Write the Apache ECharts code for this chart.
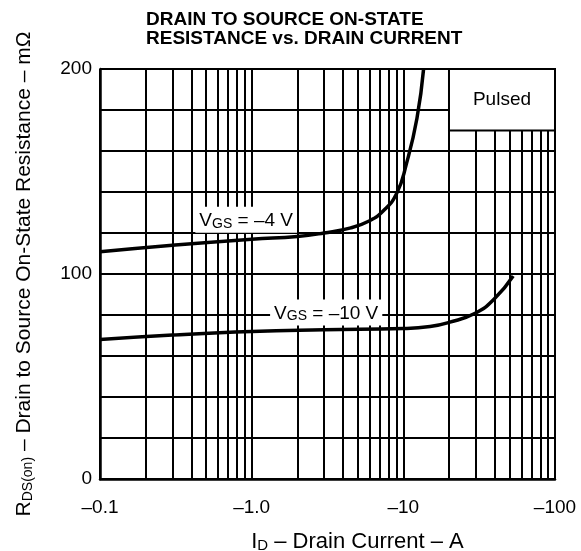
<!DOCTYPE html>
<html>
<head>
<meta charset="utf-8">
<script src="https://cdn.jsdelivr.net/npm/echarts@6/dist/echarts.min.js"></script>
<style>html,body{margin:0;padding:0;background:#fff;}#c{width:581px;height:551px;}</style>
</head>
<body>
<div id="c"></div>
<script>
// ---- data ----
const xTickLabels = ['–0.1', '–1.0', '–10', '–100'];
const yTickLabels = [0, 100, 200];
const xMinorGrid = [0.2,0.3,0.4,0.5,0.6,0.7,0.8,0.9,2,3,4,5,6,7,8,9,20,30,40,50,60,70,80,90];
// |I_D| in A, R in mΩ
const id4 = [0.1,0.3,1.0,2.0,3.0,4.5,6.0,7.3,9.0,10.5,12.3,13.6];
const r4  = [110.8,114,117,118.3,120,122.5,126,130.5,139,154,176,200];
const id10 = [0.1,0.3,1.0,3.0,10,15,20,30,40,53];
const r10  = [68,70.2,72,72.8,73.4,74.4,76.4,81,88,99];
const label4 = { x: 0.92, y: 126.5 };
const label10 = { x: 3.1, y: 81.2 };
const pulsedBox = { x0: 20, x1: 100, y0: 170, y1: 200 };

const FONT = 'Liberation Sans, Arial, Helvetica, sans-serif';
const pair = (xs, ys) => xs.map((x, i) => [x, ys[i]]);

const vgsRich = {
  v: { fontSize: 19, lineHeight: 22, fontFamily: FONT, color: '#000', verticalAlign: 'bottom' },
  s: { fontSize: 14, lineHeight: 18, fontFamily: FONT, color: '#000', verticalAlign: 'bottom' }
};

const chart = echarts.init(document.getElementById('c'), null, { renderer: 'canvas' });
chart.setOption({
  animation: false,
  backgroundColor: '#fff',
  title: {
    text: 'DRAIN TO SOURCE ON-STATE\nRESISTANCE vs. DRAIN CURRENT',
    left: 146, top: 10, padding: 0,
    textStyle: { fontFamily: FONT, fontSize: 19, fontWeight: 'bold', lineHeight: 19, color: '#000' }
  },
  grid: { left: 100, right: 26, top: 69, bottom: 72, containLabel: false, outerBoundsMode: 'none' },
  xAxis: {
    type: 'log', logBase: 10, min: 0.1, max: 100,
    name: '{a|I}{b|D}{a| – Drain Current – A}',
    nameLocation: 'middle', nameGap: 50,
    nameTextStyle: {
      padding: [0, 0, 0, 60],
      rich: {
        a: { fontSize: 22, lineHeight: 24, fontFamily: FONT, color: '#000', verticalAlign: 'bottom' },
        b: { fontSize: 15, lineHeight: 20, fontFamily: FONT, color: '#000', verticalAlign: 'bottom' }
      }
    },
    axisLine: { show: true, onZero: false, lineStyle: { color: '#000', width: 2.5 } },
    axisTick: { show: false },
    minorTick: { show: false },
    axisLabel: {
      margin: 19, fontSize: 19, fontFamily: FONT, color: '#000',
      formatter: v => xTickLabels[Math.round(Math.log10(v)) + 1]
    },
    splitLine: { show: true, lineStyle: { color: '#000', width: 2 } }
  },
  yAxis: {
    type: 'value', min: 0, max: 200, interval: 20,
    name: '{a|R}{b|DS(on)}{a| – Drain to Source On-State Resistance – mΩ}',
    nameLocation: 'middle', nameGap: 65, nameRotate: 90,
    nameTextStyle: {
      rich: {
        a: { fontSize: 21, lineHeight: 24, fontFamily: FONT, color: '#000', verticalAlign: 'bottom' },
        b: { fontSize: 14, lineHeight: 19, fontFamily: FONT, color: '#000', verticalAlign: 'bottom' }
      }
    },
    axisLine: { show: true, lineStyle: { color: '#000', width: 2.5 } },
    axisTick: { show: false },
    axisLabel: {
      margin: 8, fontSize: 19, fontFamily: FONT, color: '#000',
      formatter: v => (yTickLabels.indexOf(v) >= 0 ? String(v) : '')
    },
    splitLine: { show: true, lineStyle: { color: '#000', width: 2 } }
  },
  series: [
    {
      name: 'VGS = -4 V', type: 'line', z: 3,
      data: pair(id4, r4),
      smooth: 0.5, showSymbol: false, symbol: 'none',
      lineStyle: { color: '#000', width: 3.5 },
      markLine: {
        z: 1, silent: true, symbol: ['none', 'none'], label: { show: false },
        lineStyle: { color: '#000', width: 2, type: 'solid' },
        data: xMinorGrid.map(v => ({ xAxis: v }))
      },
      markPoint: {
        z: 5, silent: true, symbol: 'rect', symbolSize: 0,
        label: {
          show: true, position: 'inside', backgroundColor: '#fff', padding: [2, 4, 2, 4],
          formatter: '{v|V}{s|GS}{v| = –4 V}', rich: vgsRich
        },
        data: [{ coord: [label4.x, label4.y] }]
      }
    },
    {
      name: 'VGS = -10 V', type: 'line', z: 3,
      data: pair(id10, r10),
      smooth: 0.5, showSymbol: false, symbol: 'none',
      lineStyle: { color: '#000', width: 3.5 },
      markPoint: {
        z: 5, silent: true, symbol: 'rect', symbolSize: 0,
        label: {
          show: true, position: 'inside', backgroundColor: '#fff', padding: [2, 4, 2, 4],
          formatter: '{v|V}{s|GS}{v| = –10 V}', rich: vgsRich
        },
        data: [{ coord: [label10.x, label10.y] }]
      },
      markArea: {
        z: 4, silent: true,
        itemStyle: { color: '#fff', borderColor: '#000', borderWidth: 2 },
        label: { show: true, position: 'inside', fontSize: 19, fontFamily: FONT, color: '#000' },
        data: [[
          { name: 'Pulsed', coord: [pulsedBox.x0, pulsedBox.y1] },
          { coord: [pulsedBox.x1, pulsedBox.y0] }
        ]]
      }
    }
  ]
});
</script>
</body>
</html>
